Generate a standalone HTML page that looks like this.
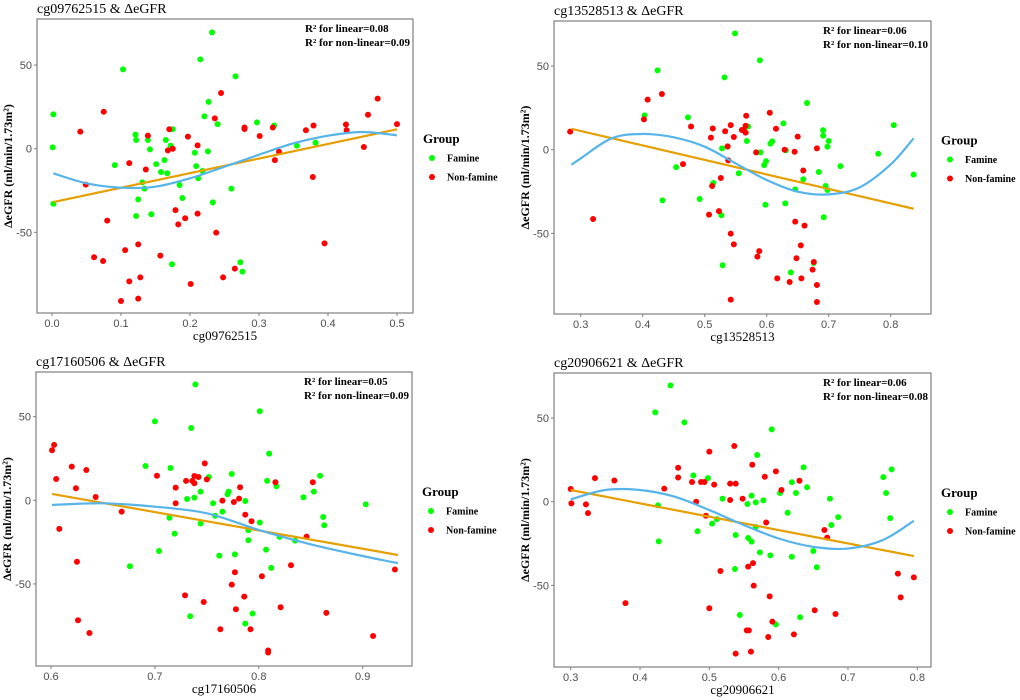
<!DOCTYPE html>
<html><head><meta charset="utf-8"><style>
body{margin:0;background:#fff}
svg{display:block}
.tk{font-family:"Liberation Sans",sans-serif;font-size:11px;fill:#4d4d4d}
.ttl{font-family:"Liberation Serif",serif;font-size:14px;fill:#000}
.xt{font-family:"Liberation Serif",serif;font-size:13px;fill:#000}
.yt{font-family:"Liberation Serif",serif;font-size:12px;font-weight:bold;fill:#000}
.ann{font-family:"Liberation Serif",serif;font-size:11px;font-weight:bold;fill:#000}
.lg{font-family:"Liberation Serif",serif;font-size:10px;font-weight:bold;fill:#000}
.lgt{font-family:"Liberation Serif",serif;font-size:13px;font-weight:bold;fill:#000}
</style></head><body>
<svg id="chart" width="1020" height="700" xmlns="http://www.w3.org/2000/svg"></svg>
<script>
// ---- Panel 1: cg09762515 ----
const p1GreenX=[0.232,0.215,0.103,0.266,0.227,0.221,0.002,0.240,0.297,0.322,0.175,0.121,0.122,0.139,0.165,0.001,0.172,0.142,0.355,0.382,0.207,0.226,0.091,0.151,0.163,0.209,0.158,0.167,0.218,0.131,0.134,0.212,0.185,0.260,0.002,0.125,0.189,0.233,0.122,0.144,0.174,0.273,0.276];
const p1GreenY=[69.5,53.4,47.4,43.2,28,19.3,20.5,14.7,15.7,13.9,11.6,8.4,5.2,5.2,5.2,0.8,1.8,-0.4,1.8,3.6,-2.4,-1.6,-9.8,-9.2,-6.8,-10.4,-13.9,-14.7,-13.3,-20.1,-23.9,-17.7,-21.7,-23.9,-32.9,-30.3,-29.5,-32.1,-40.2,-39.2,-69.1,-67.9,-73.5];
const p1RedX=[0.075,0.041,0.245,0.236,0.472,0.458,0.500,0.426,0.427,0.368,0.379,0.279,0.279,0.301,0.320,0.170,0.139,0.197,0.211,0.175,0.168,0.329,0.323,0.452,0.112,0.136,0.049,0.378,0.080,0.179,0.211,0.193,0.183,0.238,0.395,0.125,0.106,0.061,0.074,0.157,0.265,0.248,0.128,0.112,0.201,0.125,0.100];
const p1RedY=[22.1,10.2,33.3,18.1,29.9,20.3,14.7,14.5,11.0,11.0,13.9,12.7,11.8,7.6,12.7,11.6,7.8,7.2,2.0,0,-1.0,-1.8,-6.8,1.0,-8.6,-12.4,-21.5,-16.9,-43.0,-36.7,-38.8,-41.6,-45.2,-50.2,-56.6,-57.2,-60.6,-64.9,-67.1,-63.9,-71.7,-76.9,-76.9,-79.3,-80.9,-89.6,-91.0];
const p1LinX=[0.002,0.5];
const p1LinY=[-31.9,11.6];
const p1CurveX=[0.002,0.05,0.1,0.15,0.2,0.25,0.3,0.35,0.4,0.45,0.5];
const p1CurveY=[-14.7,-20.7,-23.3,-22.7,-17.7,-10.8,-3.6,3.2,7.8,10,8];
const p1XTicks=[0,0.1,0.2,0.3,0.4,0.5];
const p1XLabels=["0.0","0.1","0.2","0.3","0.4","0.5"];

// ---- Panel 2: cg13528513 ----
const p2GreenX=[0.549,0.589,0.424,0.532,0.665,0.403,0.473,0.627,0.805,0.570,0.691,0.691,0.700,0.568,0.609,0.606,0.528,0.537,0.698,0.631,0.590,0.780,0.599,0.596,0.454,0.719,0.837,0.684,0.555,0.659,0.514,0.695,0.698,0.646,0.492,0.432,0.630,0.598,0.527,0.692,0.529,0.676,0.639];
const p2GreenY=[69.5,53.4,47.4,43.2,27.9,20.5,19.3,15.7,14.7,13.9,11.6,8.4,5.2,5.2,5.0,3.6,0.8,1.8,1.8,-0.4,-1.6,-2.4,-6.8,-9.2,-10.4,-9.8,-14.9,-13.3,-14.1,-17.7,-19.9,-21.7,-24.1,-23.7,-29.5,-30.3,-32.1,-32.9,-39.2,-40.4,-69.1,-67.7,-73.3];
const p2RedX=[0.283,0.402,0.408,0.431,0.478,0.605,0.567,0.542,0.566,0.513,0.615,0.560,0.563,0.533,0.566,0.510,0.547,0.650,0.681,0.537,0.629,0.583,0.645,0.538,0.465,0.659,0.526,0.512,0.507,0.523,0.320,0.646,0.661,0.542,0.547,0.655,0.588,0.585,0.648,0.676,0.674,0.617,0.656,0.637,0.681,0.542,0.681];
const p2RedY=[10.8,18.1,29.9,33.3,13.9,22.1,20.3,14.7,14.3,12.7,12.5,11.8,11.8,11.0,10.2,7.2,7.6,7.8,0.8,2.0,0,-1.6,-1.2,-6.4,-8.6,-12.4,-16.9,-21.7,-38.8,-36.7,-41.4,-43.0,-45.4,-50.2,-56.6,-57.2,-60.6,-63.9,-64.9,-67.1,-71.7,-76.9,-76.9,-79.1,-80.9,-89.6,-91.0];
const p2LinX=[0.285,0.837];
const p2LinY=[12.5,-35.3];
const p2CurveX=[0.285,0.3,0.35,0.4,0.45,0.5,0.55,0.6,0.65,0.7,0.75,0.8,0.837];
const p2CurveY=[-9,-5.2,6.8,9.4,7.4,1.8,-8.2,-18.1,-25.1,-26.7,-22.5,-8.8,6.8];
const p2XTicks=[0.3,0.4,0.5,0.6,0.7,0.8];
const p2XLabels=["0.3","0.4","0.5","0.6","0.7","0.8"];

// ---- Panel 3: cg17160506 ----
const p3GreenX=[0.739,0.801,0.700,0.735,0.810,0.691,0.715,0.774,0.859,0.752,0.808,0.817,0.853,0.744,0.771,0.770,0.731,0.738,0.843,0.787,0.756,0.903,0.765,0.758,0.714,0.862,0.863,0.801,0.744,0.790,0.719,0.820,0.835,0.790,0.807,0.704,0.777,0.762,0.676,0.812,0.734,0.794,0.787];
const p3GreenY=[69.3,53.2,47.2,43.2,27.9,20.5,19.3,15.7,14.7,13.9,11.6,8.4,5.2,5.2,5.2,3.6,0.8,1.6,1.8,-0.4,-1.8,-2.4,-6.8,-9.2,-10.4,-10.0,-14.9,-13.3,-13.9,-17.9,-19.9,-21.9,-24.1,-23.9,-29.5,-30.3,-32.3,-33.1,-39.4,-40.4,-69.3,-67.7,-73.7];
const p3RedX=[0.601,0.603,0.620,0.634,0.605,0.748,0.702,0.738,0.742,0.750,0.736,0.730,0.738,0.816,0.852,0.624,0.720,0.782,0.643,0.781,0.765,0.720,0.776,0.668,0.787,0.793,0.608,0.846,0.625,0.831,0.931,0.777,0.803,0.774,0.729,0.786,0.747,0.821,0.778,0.865,0.626,0.763,0.792,0.637,0.910,0.809,0.809];
const p3RedY=[29.9,33.1,20.1,18.1,12.7,22.1,14.7,14.5,13.9,12.5,11.6,11.6,10.2,10.8,10.8,7.2,7.6,7.8,2.0,1.0,-0.2,-1.8,-1.0,-6.8,-8.6,-12.5,-17.1,-21.7,-36.7,-38.8,-41.4,-43.0,-45.4,-50.4,-56.8,-57.6,-60.8,-63.9,-65.1,-67.3,-71.7,-77.1,-77.1,-79.3,-81.1,-89.8,-91.0];
const p3LinX=[0.601,0.934];
const p3LinY=[3.8,-32.7];
const p3CurveX=[0.601,0.65,0.7,0.75,0.8,0.85,0.9,0.934];
const p3CurveY=[-2.8,-1.8,-3.8,-7.8,-17.7,-26.3,-33.3,-37.6];
const p3XTicks=[0.6,0.7,0.8,0.9];
const p3XLabels=["0.6","0.7","0.8","0.9"];

// ---- Panel 4: cg20906621 ----
const p4GreenX=[0.444,0.422,0.464,0.590,0.569,0.636,0.763,0.477,0.751,0.498,0.619,0.641,0.755,0.625,0.602,0.561,0.519,0.674,0.578,0.567,0.555,0.426,0.613,0.686,0.761,0.511,0.504,0.676,0.567,0.483,0.538,0.556,0.561,0.427,0.650,0.573,0.588,0.619,0.537,0.655,0.544,0.631,0.596];
const p4GreenY=[69.5,53.4,47.4,43.2,27.9,20.5,19.3,15.7,14.7,14.1,11.6,8.6,5.2,5.2,5.2,3.6,1.8,1.8,0.8,-0.4,-1.4,-2.2,-6.6,-9.2,-9.8,-10.4,-13.1,-13.9,-15.1,-17.7,-19.9,-21.7,-23.9,-23.7,-29.5,-30.3,-32.1,-32.9,-40.2,-39.2,-67.7,-69.1,-73.3];
const p4RedX=[0.300,0.301,0.322,0.325,0.335,0.363,0.379,0.435,0.455,0.455,0.500,0.536,0.562,0.596,0.580,0.475,0.488,0.493,0.507,0.530,0.538,0.630,0.604,0.481,0.548,0.530,0.495,0.582,0.666,0.670,0.563,0.556,0.516,0.564,0.772,0.795,0.587,0.776,0.500,0.652,0.682,0.591,0.554,0.557,0.585,0.622,0.538,0.560];
const p4RedY=[7.6,-1.0,-1.6,-6.8,14.1,12.7,-60.6,7.8,20.3,14.5,29.9,33.3,22.1,18.1,14.9,11.8,11.8,11.8,10.2,10.8,10.8,12.5,7.0,0,1.8,1.0,-8.4,-12.4,-16.9,-21.5,-36.7,-38.8,-41.4,-50.2,-43.0,-45.2,-56.6,-57.2,-63.7,-64.9,-67.1,-71.7,-76.9,-76.9,-80.9,-79.3,-90.8,-89.6];
const p4LinX=[0.3,0.795];
const p4LinY=[7,-32.5];
const p4CurveX=[0.3,0.35,0.4,0.45,0.5,0.55,0.6,0.65,0.7,0.75,0.795];
const p4CurveY=[1.4,7,7,3,-5,-14,-22,-27,-28,-23,-11.4];
const p4XTicks=[0.3,0.4,0.5,0.6,0.7,0.8];
const p4XLabels=["0.3","0.4","0.5","0.6","0.7","0.8"];

const yTicks=[50,0,-50];
const yLabels=["50","0","-50"];

const NS="http://www.w3.org/2000/svg";
const svg=document.getElementById('chart');
function mk(tag,attrs,parent){const e=document.createElementNS(NS,tag);for(const k in attrs)e.setAttribute(k,attrs[k]);(parent||svg).appendChild(e);return e;}

const panels=[
 {id:'p1',probe:'cg09762515',box:[37,19,413,313],x0:0,px0:52,x1:0.5,px1:397,y0py:148.7,ppu:1.673,
  gx:p1GreenX,gy:p1GreenY,rx:p1RedX,ry:p1RedY,lx:p1LinX,ly:p1LinY,cx:p1CurveX,cy:p1CurveY,xt:p1XTicks,xl:p1XLabels,r1:'0.08',r2:'0.09'},
 {id:'p2',probe:'cg13528513',box:[554,21,931,314],x0:0.3,px0:580.7,x1:0.8,px1:890.7,y0py:149.7,ppu:1.673,
  gx:p2GreenX,gy:p2GreenY,rx:p2RedX,ry:p2RedY,lx:p2LinX,ly:p2LinY,cx:p2CurveX,cy:p2CurveY,xt:p2XTicks,xl:p2XLabels,r1:'0.06',r2:'0.10'},
 {id:'p3',probe:'cg17160506',box:[36,372,412,666],x0:0.6,px0:51,x1:0.9,px1:362.7,y0py:500.3,ppu:1.673,
  gx:p3GreenX,gy:p3GreenY,rx:p3RedX,ry:p3RedY,lx:p3LinX,ly:p3LinY,cx:p3CurveX,cy:p3CurveY,xt:p3XTicks,xl:p3XLabels,r1:'0.05',r2:'0.09'},
 {id:'p4',probe:'cg20906621',box:[554,373,931,667],x0:0.3,px0:570.7,x1:0.8,px1:917.3,y0py:501.7,ppu:1.673,
  gx:p4GreenX,gy:p4GreenY,rx:p4RedX,ry:p4RedY,lx:p4LinX,ly:p4LinY,cx:p4CurveX,cy:p4CurveY,xt:p4XTicks,xl:p4XLabels,r1:'0.06',r2:'0.08'}
];

function smoothPath(pts){
  let d='M'+pts[0][0]+','+pts[0][1];
  for(let i=0;i<pts.length-1;i++){
    const p0=pts[Math.max(0,i-1)],p1=pts[i],p2=pts[i+1],p3=pts[Math.min(pts.length-1,i+2)];
    const c1x=p1[0]+(p2[0]-p0[0])/6,c1y=p1[1]+(p2[1]-p0[1])/6;
    const c2x=p2[0]-(p3[0]-p1[0])/6,c2y=p2[1]-(p3[1]-p1[1])/6;
    d+=' C'+c1x+','+c1y+' '+c2x+','+c2y+' '+p2[0]+','+p2[1];
  }
  return d;
}

panels.forEach(P=>{
  const [L,T,R,B]=P.box;
  const X=v=>P.px0+(v-P.x0)*(P.px1-P.px0)/(P.x1-P.x0);
  const Y=v=>P.y0py-v*P.ppu;
  const g=mk('g',{});
  
  
  const t=mk('text',{x:L,y:T-6,class:'ttl'},g);t.textContent=P.probe+' & \u0394eGFR';
  
  
  const frame=mk('rect',{x:L,y:T,width:R-L,height:B-T,fill:'#fff',stroke:'#7f7f7f','stroke-width':1.2},g);
  
  
  P.xt.forEach((v,i)=>{
    const px=X(v);
    mk('line',{x1:px,x2:px,y1:B,y2:B+3,stroke:'#7f7f7f'},g);
    const tl=mk('text',{x:px,y:B+14,class:'tk','text-anchor':'middle'},g);tl.textContent=P.xl[i];
    
    
  });
  yTicks.forEach((v,i)=>{
    const py=Y(v);
    mk('line',{x1:L-3,x2:L,y1:py,y2:py,stroke:'#7f7f7f'},g);
    const tl=mk('text',{x:L-5,y:py+4,class:'tk','text-anchor':'end'},g);tl.textContent=yLabels[i];
    
    
  });
  const xt=mk('text',{x:(L+R)/2,y:B+27,class:'xt','text-anchor':'middle'},g);xt.textContent=P.probe;
  
  
  const yc=(T+B)/2, yx=L-25;
  const yt=mk('text',{x:yx,y:yc,class:'yt','text-anchor':'middle',transform:'rotate(-90 '+yx+' '+yc+')'},g);
  yt.textContent='\u0394eGFR (ml/min/1.73m\u00b2)';
  
  
  P.gx.forEach((v,i)=>{
    const c=mk('circle',{cx:X(v),cy:Y(P.gy[i]),r:3,fill:'#00ff00'},g);
    
    
  });
  P.rx.forEach((v,i)=>{
    const c=mk('circle',{cx:X(v),cy:Y(P.ry[i]),r:3,fill:'#ff0000'},g);
    
    
  });
  const ln=mk('line',{x1:X(P.lx[0]),y1:Y(P.ly[0]),x2:X(P.lx[1]),y2:Y(P.ly[1]),stroke:'#e69f00','stroke-width':2.2},g);
  
  
  const pts=P.cx.map((v,i)=>[X(v),Y(P.cy[i])]);
  const cp=mk('path',{d:smoothPath(pts),fill:'none',stroke:'#56b4e9','stroke-width':2.2},g);
  
  
  const a1=mk('text',{x:R-104,y:T+13,class:'ann'},g);a1.textContent='R\u00b2 for linear='+P.r1;
  
  
  const a2=mk('text',{x:R-104,y:T+27,class:'ann'},g);a2.textContent='R\u00b2 for non-linear='+P.r2;
  
  
  const w=Math.max(a1.getComputedTextLength(),a2.getComputedTextLength());
  const ax=R-3-w;
  a1.setAttribute('x',ax);a2.setAttribute('x',ax);
  const lg=mk('g',{},g);
  
  
  const cy=(T+B)/2;
  const gt=mk('text',{x:R+10,y:cy-23,class:'lgt'},lg);gt.textContent='Group';
  mk('circle',{cx:R+19,cy:cy-8,r:3,fill:'#00ff00'},lg);
  const f=mk('text',{x:R+34,y:cy-4.5,class:'lg'},lg);f.textContent='Famine';
  
  
  mk('circle',{cx:R+19,cy:cy+11,r:3,fill:'#ff0000'},lg);
  const n=mk('text',{x:R+34,y:cy+14.5,class:'lg'},lg);n.textContent='Non-famine';
  
  
});
</script>
</body></html>
